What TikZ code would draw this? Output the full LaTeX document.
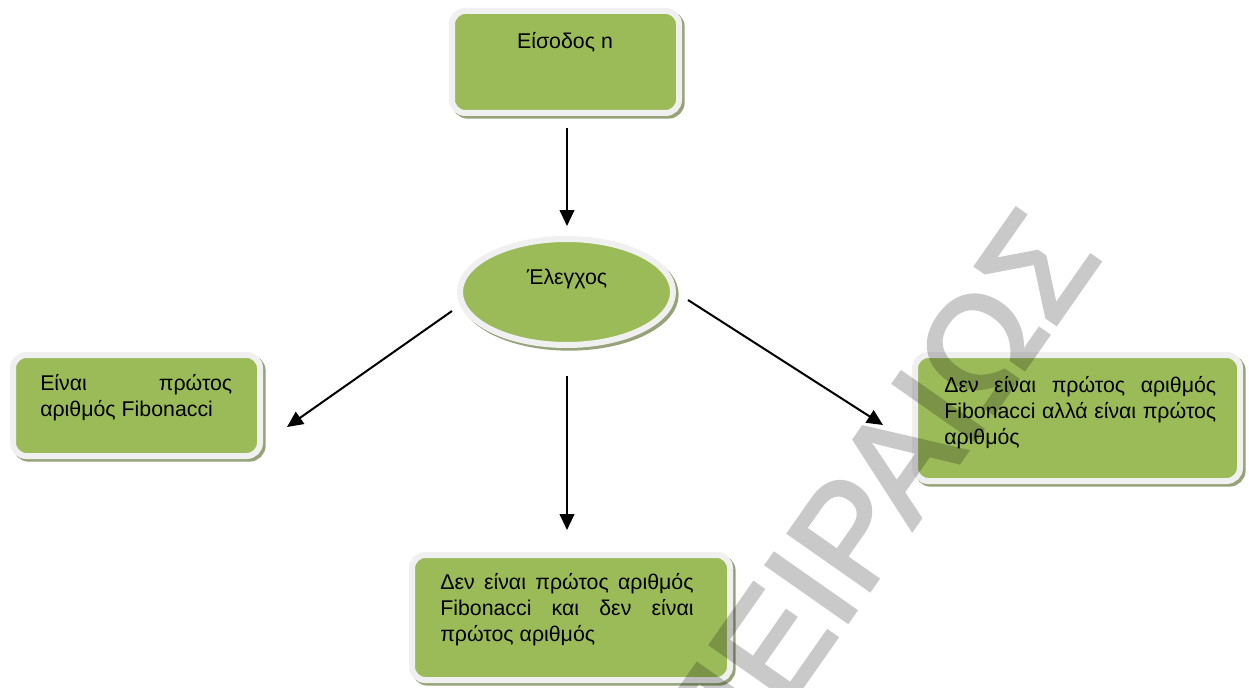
\documentclass[tikz,border=0pt]{standalone}
\usepackage{fontspec}
\setmainfont{Liberation Sans}
\newfontfamily\stampfont[FakeBold=2.5]{Liberation Sans}
\usetikzlibrary{arrows.meta,shapes.geometric,shadows}
\definecolor{boxgreen}{HTML}{9BBB59}
\definecolor{boxrim}{HTML}{F0F0F0}
\definecolor{boxshade}{RGB}{150,162,120}

\begin{document}
\begin{tikzpicture}[x=0.75pt, y=-0.75pt,
      every node/.style = {font=\fontsize{16}{19.5}\selectfont},
      greenbox/.style   = {rectangle, rounded corners=10pt, fill=boxgreen, draw=boxrim,
                           line width=4.5pt, inner sep=0pt, outer sep=0pt,
                           drop shadow={shadow xshift=2pt, shadow yshift=-2pt, fill=boxshade,
                                        draw=boxshade, line width=4.5pt, opacity=1}},
      greenoval/.style  = {ellipse, fill=boxgreen, draw=boxrim, line width=4.5pt,
                           inner sep=0pt, outer sep=0pt,
                           drop shadow={shadow xshift=2pt, shadow yshift=-2pt, fill=boxshade,
                                        draw=boxshade, line width=4.5pt, opacity=1}},
      boxtext/.style    = {anchor=north west, inner sep=0pt, align=justify},
      flow/.style       = {draw, line width=1.5pt, -{Triangle[length=12pt, width=11pt]}},
      watermark/.style  = {font=\stampfont\fontsize{108}{108}\selectfont, text=black,
                           inner sep=0pt}
    ]
    \useasboundingbox (0,0) rectangle (1249,688);

    \node (input)   [greenbox, minimum width=170.25pt, minimum height=76.5pt]  at (565.5,62)   {};
    \node (check)   [greenoval, minimum width=159.75pt, minimum height=79.5pt] at (566.5,292)  {};
    \node (prime)   [greenbox, minimum width=185.25pt, minimum height=75.75pt] at (136.5,405.5) {};
    \node (onlypr)  [greenbox, minimum width=243.75pt, minimum height=94.5pt]  at (1077.5,418) {};
    \node (neither) [greenbox, minimum width=238.5pt, minimum height=93.75pt]  at (571,617.5)  {};

    \node (inputtext)   at (565,42)  {Είσοδος n};
    \node (checktext)   at (567,279) {Έλεγχος};
    \node (primetext)   [boxtext, text width=144pt] at (40,374)
      {Είναι πρώτος\linebreak αριθμός Fibonacci};
    \node (onlyprtext)  [boxtext, text width=204pt] at (944,376)
      {Δεν είναι πρώτος αριθμός\linebreak Fibonacci αλλά είναι πρώτος\linebreak αριθμός};
    \node (neithertext) [boxtext, text width=190pt] at (440,573)
      {Δεν είναι πρώτος αριθμός\linebreak Fibonacci και δεν είναι\linebreak πρώτος αριθμός};

    \coordinate (belowcheck) at (check.south |- neither.north);

    \draw[flow] ([shift={(1.5,15)}]input.south) to ([shift={(0.5,-13)}]check.north);
    \draw[flow] ([shift={(-8,19)}]check.west)   to ([shift={(27,21.5)}]prime.east);
    \draw[flow] ([shift={(0.5,31)}]check.south) to ([shift={(0.5,-25)}]belowcheck);
    \draw[flow] ([shift={(15,8)}]check.east)    to ([shift={(-32,7)}]onlypr.west);

    % watermark
    \begin{scope}[transparency group, opacity=0.21]
      \node (stamp) [watermark, rotate=55] at (873,498) {ΠΕΙΡΑΙΩΣ};
    \end{scope}
  \end{tikzpicture}
\end{document}
